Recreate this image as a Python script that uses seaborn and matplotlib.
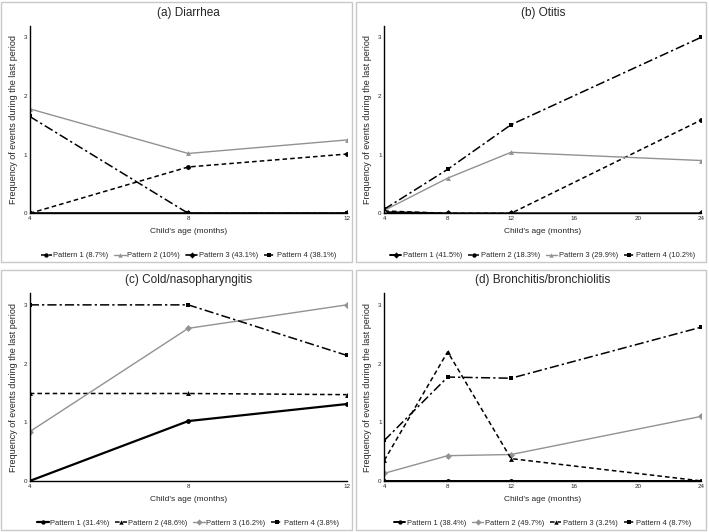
import seaborn as sns
import matplotlib.pyplot as plt
import pandas as pd
from matplotlib.patches import Rectangle

sns.set_style("white")
plt.rcParams['font.family'] = ['Liberation Sans Narrow', 'Liberation Sans', 'DejaVu Sans']

# ages (months)
age_short = [4, 8, 12]
age_long = [4, 8, 12, 24]

# (a) Diarrhea
diarrhea_labels = ["Pattern 1 (8.7%)", "Pattern 2 (10%)", "Pattern 3 (43.1%)", "Pattern 4 (38.1%)"]
diarrhea = [
    [0.0, 0.79, 1.01],
    [1.78, 1.02, 1.25],
    [0.0, 0.0, 0.0],
    [1.65, 0.0, 0.0],
]

# (b) Otitis
otitis_labels = ["Pattern 1 (41.5%)", "Pattern 2 (18.3%)", "Pattern 3 (29.9%)", "Pattern 4 (10.2%)"]
otitis = [
    [0.02, 0.0, 0.0, 0.0],
    [0.04, 0.0, 0.0, 1.59],
    [0.05, 0.60, 1.04, 0.90],
    [0.07, 0.75, 1.51, 3.0],
]

# (c) Cold/nasopharyngitis
cold_labels = ["Pattern 1 (31.4%)", "Pattern 2 (48.6%)", "Pattern 3 (16.2%)", "Pattern 4 (3.8%)"]
cold = [
    [0.0, 1.02, 1.31],
    [1.49, 1.49, 1.47],
    [0.84, 2.6, 3.0],
    [3.0, 3.0, 2.14],
]

# (d) Bronchitis/bronchiolitis
bronch_labels = ["Pattern 1 (38.4%)", "Pattern 2 (49.7%)", "Pattern 3 (3.2%)", "Pattern 4 (8.7%)"]
bronch = [
    [0.0, 0.0, 0.0, 0.0],
    [0.13, 0.43, 0.45, 1.10],
    [0.35, 2.2, 0.38, 0.0],
    [0.69, 1.77, 1.75, 2.62],
]

# line styles: (color, linestyle, marker, linewidth)
GREY = "#929292"
DASH = (0, (3, 2))
DASHDOT = (0, (6, 2, 1.5, 2))

panels = [
    ("(a) Diarrhea", age_short, diarrhea, diarrhea_labels,
     [("black", DASH, "o", 1.1), (GREY, "-", "^", 1.0), ("black", "-", "D", 1.2), ("black", DASHDOT, "s", 1.1)],
     [4, 8, 12]),
    ("(b) Otitis", age_long, otitis, otitis_labels,
     [("black", "-", "D", 1.4), ("black", DASH, "o", 1.1), (GREY, "-", "^", 1.0), ("black", DASHDOT, "s", 1.1)],
     [4, 8, 12, 16, 20, 24]),
    ("(c) Cold/nasopharyngitis", age_short, cold, cold_labels,
     [("black", "-", "o", 1.6), ("black", DASH, "^", 1.1), (GREY, "-", "D", 1.0), ("black", DASHDOT, "s", 1.1)],
     [4, 8, 12]),
    ("(d) Bronchitis/bronchiolitis", age_long, bronch, bronch_labels,
     [("black", "-", "o", 1.4), (GREY, "-", "D", 1.0), ("black", DASH, "^", 1.1), ("black", DASHDOT, "s", 1.1)],
     [4, 8, 12, 16, 20, 24]),
]

fig = plt.figure(figsize=(7.09, 5.32), dpi=100)

# panel boxes (fig coords): left, bottom of box
boxes = [(0.002, 0.507), (0.502, 0.507), (0.002, 0.004), (0.502, 0.004)]
box_w, box_h = 0.494, 0.489

for (title, ages, series, labels, styles, ticks), (bx, by) in zip(panels, boxes):
    fig.add_artist(Rectangle((bx, by), box_w, box_h, transform=fig.transFigure,
                             fill=False, edgecolor="#c8c8c8", linewidth=1.0))
    ax = fig.add_axes([bx + 0.040, by + 0.092, 0.447, 0.353])
    for vals, lab, (col, ls, mk, lw) in zip(series, labels, styles):
        df = pd.DataFrame({"age": ages, "freq": vals})
        sns.lineplot(data=df, x="age", y="freq", ax=ax, color=col, linestyle=ls,
                     marker=mk, markersize=3.5, markeredgewidth=0, linewidth=lw,
                     label=lab, legend=False)
    ax.set_xlim(ticks[0], ticks[-1])
    ax.set_ylim(0, 3.2)
    ax.set_xticks(ticks)
    ax.set_yticks([0, 1, 2, 3])
    ax.tick_params(labelsize=4.5, length=0, pad=2)
    for s in ["top", "right"]:
        ax.spines[s].set_visible(False)
    for s in ["left", "bottom"]:
        ax.spines[s].set_color("black")
        ax.spines[s].set_linewidth(1.0)
    ax.set_title(title, fontsize=8.5, pad=7)
    ax.set_xlabel("Child's age (months)", fontsize=6, labelpad=5)
    ax.set_ylabel("Frequency of events during the last period", fontsize=6.5, labelpad=4)
    handles, labs = ax.get_legend_handles_labels()
    ax.legend(handles, labs, loc="upper center", bbox_to_anchor=(0.5, -0.19),
              ncol=4, frameon=False, fontsize=5.4, handlelength=1.5, handletextpad=0.2,
              columnspacing=0.8, markerscale=0.9, borderaxespad=0)

plt.savefig("out.png", dpi=100)
plt.close(fig)
